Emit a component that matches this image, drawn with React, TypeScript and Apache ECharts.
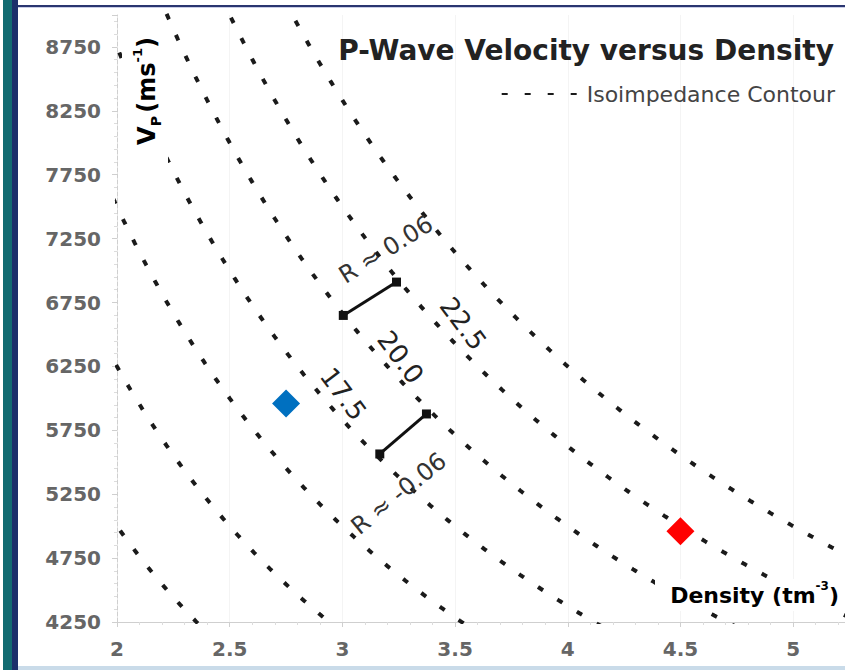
import React, { useEffect, useRef } from "react";
import * as echarts from "echarts";

// Isoimpedance levels (density x velocity / 1000)
const impedanceLevels = [10, 12.5, 15, 17.5, 20, 22.5, 25];

// Density samples used to trace each contour
const densitySamples: number[] = [];
for (let d = 1.9; d <= 5.45; d += 0.01) densitySamples.push(Math.round(d * 1000) / 1000);

// Contour value labels
const levelLabels = ["17.5", "20.0", "22.5"];
const levelLabelDensity = [3.004, 3.258, 3.536];
const levelLabelVelocity = [6035, 6322, 6584];

// Reflection-coefficient bars between neighbouring contours
const barStartDensity = [3.004, 3.166];
const barStartVelocity = [6649, 5565];
const barEndDensity = [3.24, 3.373];
const barEndVelocity = [6910, 5878];
const barLabels = ["R \u2248 0.06", "R \u2248 -0.06"];
const barLabelDensity = [3.193, 3.25];
const barLabelVelocity = [7165, 5255];
const barLabelAngle = [32, 39];

// Rock samples
const rockDensity = [2.75, 4.5];
const rockVelocity = [5960, 4960];
const rockColors = ["#0070c0", "#ff0000"];

const FONT = "DejaVu Sans, Verdana, sans-serif";
const CONTOUR_NAME = "Isoimpedance Contour";
const CLEAR = "rgba(0,0,0,0)";

export default function App() {
  const ref = useRef<HTMLDivElement>(null);

  useEffect(() => {
    if (!ref.current) return;
    const chart = echarts.init(ref.current, undefined, { renderer: "svg" });

    const contourSeries = impedanceLevels.map((z) => ({
      name: CONTOUR_NAME,
      type: "line",
      data: densitySamples.map((d) => [d, (z * 1000) / d]),
      showSymbol: false,
      symbol: "none",
      clip: true,
      lineStyle: { color: "#1a1a1a", width: 4, type: [6, 17], cap: "butt" },
      itemStyle: { color: "#1a1a1a" },
      silent: true,
      z: 2,
    }));

    const barSeries = barStartDensity.map((_, i) => ({
      type: "line",
      data: [
        [barStartDensity[i], barStartVelocity[i]],
        [barEndDensity[i], barEndVelocity[i]],
      ],
      symbol: "rect",
      symbolSize: 9,
      showSymbol: true,
      lineStyle: { color: "#111", width: 3 },
      itemStyle: { color: "#111" },
      z: 3,
    }));

    const levelLabelSeries = {
      type: "scatter",
      data: levelLabels.map((t, i) => ({
        value: [levelLabelDensity[i], levelLabelVelocity[i]],
        name: t,
      })),
      symbolSize: 1,
      itemStyle: { color: CLEAR, opacity: 1 },
      label: {
        show: true,
        position: "inside",
        formatter: (p: any) => p.name,
        rotate: -53,
        fontFamily: FONT,
        fontSize: 26,
        color: "#222",
      },
      z: 4,
    };

    const barLabelSeries = {
      type: "scatter",
      data: barLabels.map((t, i) => ({
        value: [barLabelDensity[i], barLabelVelocity[i]],
        name: t,
        label: { rotate: barLabelAngle[i] },
      })),
      symbolSize: 1,
      itemStyle: { color: CLEAR, opacity: 1 },
      label: {
        show: true,
        position: "inside",
        formatter: (p: any) => p.name,
        fontFamily: FONT,
        fontSize: 24,
        color: "#333",
      },
      z: 4,
    };

    const rockSeries = {
      type: "scatter",
      data: rockDensity.map((d, i) => ({
        value: [d, rockVelocity[i]],
        itemStyle: { color: rockColors[i], opacity: 1 },
      })),
      symbol: "diamond",
      symbolSize: 28,
      itemStyle: { opacity: 1 },
      z: 5,
    };

    chart.setOption({
      animation: false,
      backgroundColor: "#ffffff",
      textStyle: { fontFamily: FONT },
      title: {
        text: "P-Wave Velocity versus Density",
        right: 6,
        top: 31,
        textStyle: { fontFamily: FONT, fontSize: 28, fontWeight: "bold", color: "#222" },
      },
      legend: {
        data: [CONTOUR_NAME],
        right: 5,
        top: 78,
        itemWidth: 84,
        itemHeight: 12,
        itemGap: 4,
        itemStyle: { opacity: 0 },
        textStyle: { fontFamily: FONT, fontSize: 22, color: "#444", padding: [0, 0, 0, -4] },
        selectedMode: false,
      },
      grid: { left: 117, right: 0, top: 15, bottom: 48, containLabel: false },
      xAxis: {
        type: "value",
        min: 2,
        max: 5.23,
        interval: 0.5,
        axisLine: { show: true, lineStyle: { color: "#cfcfcf", width: 1 } },
        axisTick: { show: true, length: 5, lineStyle: { color: "#cfcfcf" } },
        minorTick: { show: true, splitNumber: 5, length: 3, lineStyle: { color: "#dcdcdc" } },
        splitLine: { show: true, lineStyle: { color: "#f4f4f4", width: 1 } },
        axisLabel: {
          showMaxLabel: false,
          margin: 17,
          fontFamily: FONT,
          fontSize: 20,
          fontWeight: "bold",
          color: "#666",
        },
      },
      yAxis: {
        type: "value",
        min: 4250,
        max: 9000,
        interval: 500,
        axisLine: { show: true, lineStyle: { color: "#cfcfcf", width: 1, type: "dashed" } },
        axisTick: { show: true, length: 5, lineStyle: { color: "#cfcfcf" } },
        minorTick: { show: true, splitNumber: 5, length: 3, lineStyle: { color: "#dcdcdc" } },
        splitLine: { show: false },
        axisLabel: {
          showMaxLabel: false,
          margin: 16,
          fontFamily: FONT,
          fontSize: 20,
          fontWeight: "bold",
          color: "#666",
          formatter: (v: number) => String(v),
        },
      },
      graphic: [
        { type: "rect", shape: { x: 3, y: 0, width: 9, height: 670 }, style: { fill: "#126b72" }, silent: true, z: 20 },
        { type: "rect", shape: { x: 12, y: 0, width: 6, height: 670 }, style: { fill: "#1b2f6b" }, silent: true, z: 20 },
        { type: "rect", shape: { x: 18, y: 5, width: 827, height: 2 }, style: { fill: "#2a3570" }, silent: true, z: 20 },
        { type: "rect", shape: { x: 18, y: 7, width: 827, height: 1 }, style: { fill: "#c9cde6" }, silent: true, z: 20 },
        { type: "rect", shape: { x: 18, y: 666, width: 827, height: 4 }, style: { fill: "#c9dbe9" }, silent: true, z: 20 },
        // axis-title backgrounds mask the contours underneath
        { type: "rect", shape: { x: 122, y: 24, width: 46, height: 142 }, style: { fill: "#ffffff" }, silent: true, z: 20 },
        { type: "rect", shape: { x: 655, y: 579, width: 190, height: 32 }, style: { fill: "#ffffff" }, silent: true, z: 20 },
        {
          type: "text",
          x: 147,
          y: 91,
          z: 21,
          rotation: Math.PI / 2,
          style: {
            text: "{m|V}{s|P} {m|(ms}{u|-1}{m|)}",
            align: "center",
            verticalAlign: "middle",
            rich: {
              m: { fontFamily: FONT, fontSize: 24, fontWeight: "bold", color: "#222", lineHeight: 32 },
              s: { fontFamily: FONT, fontSize: 14, fontWeight: "bold", color: "#222", lineHeight: 14, verticalAlign: "bottom" },
              u: { fontFamily: FONT, fontSize: 13, fontWeight: "bold", color: "#222", lineHeight: 13, verticalAlign: "top" },
            },
          },
          silent: true,
        },
        {
          type: "text",
          x: 839,
          y: 595,
          z: 21,
          style: {
            text: "{m|Density (tm}{u|-3}{m|)}",
            align: "right",
            verticalAlign: "middle",
            rich: {
              m: { fontFamily: FONT, fontSize: 22, fontWeight: "bold", color: "#333", lineHeight: 30 },
              u: { fontFamily: FONT, fontSize: 12, fontWeight: "bold", color: "#333", lineHeight: 12, verticalAlign: "top" },
            },
          },
          silent: true,
        },
      ],
      series: [...contourSeries, ...barSeries, levelLabelSeries, barLabelSeries, rockSeries],
    });

    return () => chart.dispose();
  }, []);

  return (
    <div
      ref={ref}
      style={{ position: "fixed", left: 0, top: 0, width: 845, height: 670, background: "#fff" }}
    />
  );
}
